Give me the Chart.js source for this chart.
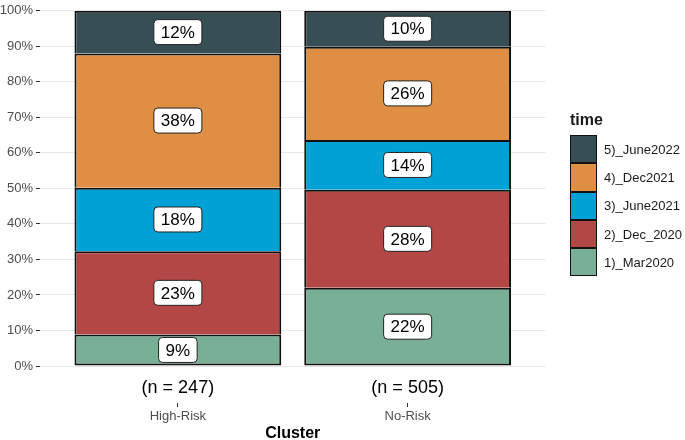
<!DOCTYPE html>
<html>
<head>
<meta charset="utf-8">
<script src="https://cdn.jsdelivr.net/npm/chart.js@4.4.1/dist/chart.umd.min.js"></script>
<style>
  html, body { margin: 0; padding: 0; background: #fff; }
  #wrap { position: relative; width: 685px; height: 440px; font-family: "Liberation Sans", Arial, sans-serif; }
  #legend { position: absolute; left: 570px; top: 110px; color: #1a1a1a; }
  #legend .title { font-weight: bold; font-size: 16px; line-height: 20px; height: 25px; }
  #legend .item { display: flex; align-items: center; height: 28.3px; }
  #legend .key { width: 27px; height: 28.3px; box-sizing: border-box; border: 1.5px solid #111; }
  #legend .lbl { font-size: 13px; margin-left: 7px; }
</style>
</head>
<body>
<div id="wrap">
  <canvas id="chart" width="685" height="440"></canvas>
  <div id="legend"></div>
</div>
<script>
/* ── Data ─────────────────────────────── */
const clusters   = ['High-Risk', 'No-Risk'];
const sampleSize = ['(n = 247)', '(n = 505)'];
const timePoints = ['1)_Mar2020', '2)_Dec_2020', '3)_June2021', '4)_Dec2021', '5)_June2022'];
const colors     = ['#79AF97', '#B24745', '#00A1D5', '#DF8F44', '#374E55'];

// percent share of each time point, per cluster
const mar2020  = [8.9, 22.0];
const dec2020  = [23.4, 27.6];
const jun2021  = [17.9, 14.0];
const dec2021  = [37.8, 26.3];
const jun2022  = [12.0, 10.1];
const series   = [mar2020, dec2020, jun2021, dec2021, jun2022];

const yTicks = [0, 10, 20, 30, 40, 50, 60, 70, 80, 90, 100];

const FONT = '"Liberation Sans", Arial, sans-serif';

/* ── Bar labels (white boxes) ─────────── */
const boxLabels = {
  id: 'box-labels',
  afterDatasetsDraw(chart) {
    const { ctx } = chart;
    ctx.save();
    ctx.font = `17px ${FONT}`;
    ctx.textAlign = 'center';
    ctx.textBaseline = 'middle';
    chart.data.datasets.forEach((ds, di) => {
      const meta = chart.getDatasetMeta(di);
      meta.data.forEach((bar, i) => {
        const txt = Math.round(ds.data[i].y) + '%';
        const cx = bar.x, cy = (bar.y + bar.base) / 2;
        const w = ctx.measureText(txt).width + 14, h = 25;
        ctx.beginPath();
        ctx.roundRect(cx - w / 2, cy - h / 2, w, h, 4);
        ctx.fillStyle = '#fff';
        ctx.fill();
        ctx.lineWidth = 1;
        ctx.strokeStyle = '#222';
        ctx.stroke();
        ctx.fillStyle = '#000';
        ctx.fillText(txt, cx, cy + 1);
      });
    });
    ctx.restore();
  }
};

const catTicks = s => { s.ticks = clusters.map((c, i) => ({ value: i + 1 })); };

new Chart(document.getElementById('chart'), {
  type: 'bar',
  data: {
    datasets: series.map((vals, k) => ({
      label: timePoints[k],
      data: vals.map((v, i) => ({ x: i + 1, y: v })),
      backgroundColor: colors[k],
      borderColor: '#111',
      borderWidth: 2,
      borderSkipped: k === 0 ? false : 'start',
      barPercentage: 0.9,
      categoryPercentage: 1,
      xAxisID: 'x',
    })),
  },
  options: {
    responsive: false,
    animation: false,
    layout: { padding: { top: 5, right: 139.5, left: 0, bottom: 0 } },
    plugins: { legend: { display: false }, tooltip: { enabled: false } },
    scales: {
      x: {
        type: 'linear', stacked: true, min: 0.4, max: 2.6, offset: false,
        afterBuildTicks: catTicks,
        afterFit: s => { s.height = 37; },
        grid: { display: false, offset: false },
        border: { display: false },
        ticks: {
          padding: 3, color: '#000', font: { family: FONT, size: 18 },
          callback: v => sampleSize[v - 1] || '',
        },
      },
      x2: {
        type: 'linear', position: 'bottom', min: 0.4, max: 2.6, offset: false,
        afterBuildTicks: catTicks,
        afterFit: s => { s.height = 37; },
        grid: { drawOnChartArea: false, offset: false, tickLength: 4, tickColor: '#333', tickWidth: 1 },
        border: { display: false },
        ticks: {
          padding: 2, color: '#4d4d4d', font: { family: FONT, size: 13 },
          callback: v => clusters[v - 1] || '',
        },
        title: {
          display: true, text: 'Cluster', color: '#000',
          font: { family: FONT, size: 16, weight: 'bold', lineHeight: 1 },
          padding: { top: 0, bottom: -2 },
        },
      },
      y: {
        stacked: true, min: 0, max: 100,
        afterFit: s => { s.width = 40; },
        ticks: {
          stepSize: 5, padding: 3, color: '#4d4d4d', font: { family: FONT, size: 13 },
          callback: v => (yTicks.includes(v) ? v + '%' : ''),
        },
        grid: {
          color: c => (c.tick && c.tick.value % 10 ? '#f2f2f2' : '#e8e8e8'),
          lineWidth: 1,
          tickLength: 4,
          tickColor: c => (c.tick && c.tick.value % 10 ? 'rgba(0,0,0,0)' : '#333'),
        },
        border: { display: false },
      },
    },
  },
  plugins: [boxLabels],
});

/* ── Legend (top entry = latest time point) ── */
const legend = document.getElementById('legend');
legend.innerHTML = '<div class="title">time</div>' +
  timePoints.map((t, k) => ({ t, c: colors[k] })).reverse()
    .map(d => `<div class="item"><div class="key" style="background:${d.c}"></div><span class="lbl">${d.t}</span></div>`)
    .join('');
</script>
</body>
</html>
